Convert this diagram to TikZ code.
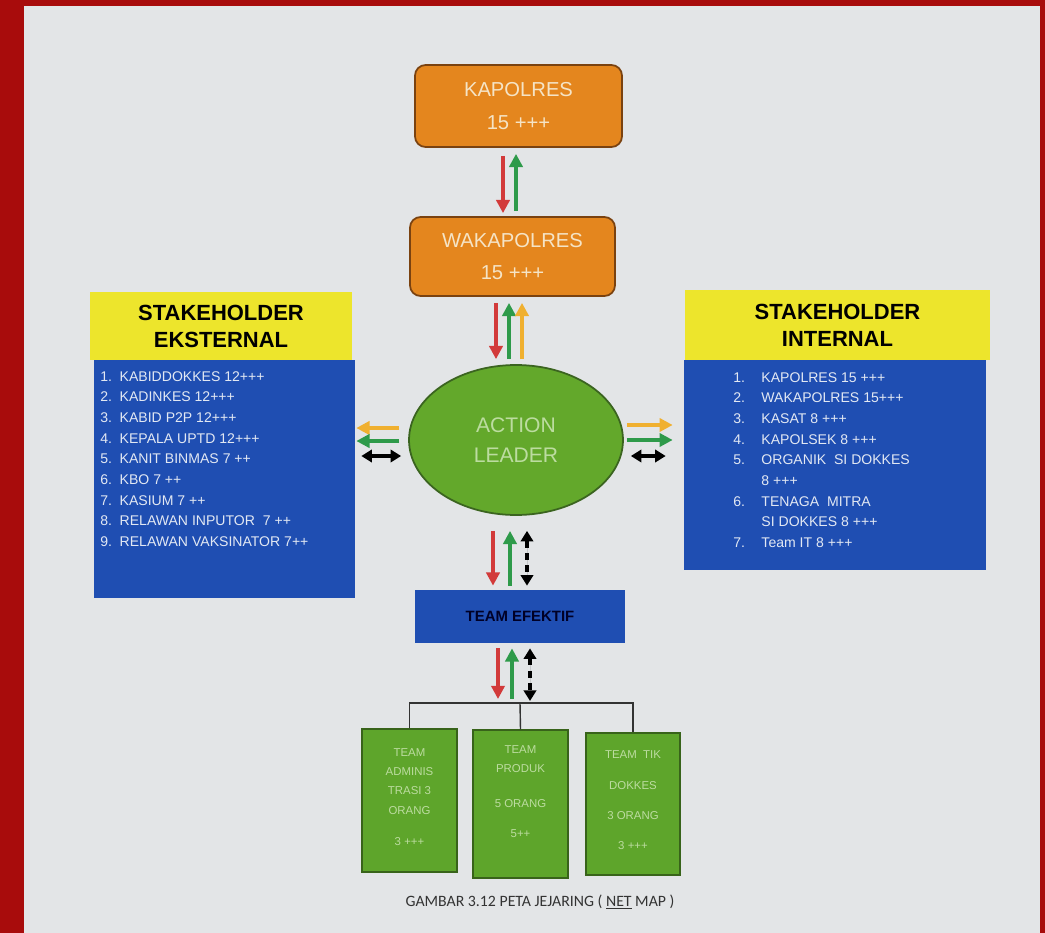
\documentclass[tikz,border=0pt]{standalone}
\usepackage{fontspec}
\setmainfont{Liberation Sans}
\newfontfamily\capfont{Carlito}
\usetikzlibrary{arrows.meta,shapes.geometric}
\definecolor{bgred}{HTML}{A80C0C}
\definecolor{pagebg}{HTML}{E3E5E7}
\definecolor{orfill}{HTML}{E4861E}
\definecolor{ordraw}{HTML}{7A4210}
\definecolor{ortext}{HTML}{F5E4C6}
\definecolor{elfill}{HTML}{63A82B}
\definecolor{eldraw}{HTML}{3B6420}
\definecolor{gtext}{HTML}{BCDCA0}
\definecolor{bfill}{HTML}{1F4EB2}
\definecolor{btext}{HTML}{E2E8F3}
\definecolor{yfill}{HTML}{EDE52C}
\definecolor{arred}{HTML}{D23A3A}
\definecolor{argreen}{HTML}{2E9A4A}
\definecolor{arorange}{HTML}{F0B030}
\definecolor{gbox}{HTML}{5EA52B}
\begin{document}
\begin{tikzpicture}[x=0.02cm,y=-0.02cm,
  orbox/.style={draw=ordraw,line width=1pt,fill=orfill,rounded corners=6pt,text=ortext,align=center,font=\fontsize{11.5}{18.5}\selectfont},
  yhead/.style={fill=yfill,align=center,font=\bfseries\fontsize{12.5}{15.3}\selectfont},
  bbody/.style={fill=bfill},
  listtext/.style={anchor=north west,inner sep=0pt,align=left,text=btext,font=\fontsize{8}{11.76}\selectfont},
  gbx/.style={fill=gbox,draw=gbox!60!black,line width=0.6pt},
  gtx/.style={anchor=north,align=center,text=gtext,font=\fontsize{6.5}{11}\selectfont},
  arw/.style={line width=2.2pt,-{Triangle[length=7.5pt,width=7.5pt]}},
  arwb/.style={line width=2.2pt,{Triangle[length=6pt,width=7pt]}-{Triangle[length=6pt,width=7pt]}},
  ra/.style={arw,draw=arred,fill=arred},
  ga/.style={arw,draw=argreen,fill=argreen},
  oa/.style={arw,draw=arorange,fill=arorange},
  ka/.style={arwb,draw=black,fill=black},
  kd/.style={arwb,draw=black,fill=black,dash pattern=on 4pt off 3pt}]
\useasboundingbox (0,0) rectangle (1045,933);
\fill[bgred] (0,0) rectangle (1045,933);
\fill[pagebg] (24,6) rectangle (1040,933);

% main nodes
\node[orbox,minimum width=4.14cm,minimum height=1.64cm] (kap) at (518.5,106) {KAPOLRES\\15 +++};
\node[orbox,minimum width=4.1cm,minimum height=1.58cm] (wak) at (512.5,256.5) {WAKAPOLRES\\15 +++};
\node[ellipse,draw=eldraw,line width=1pt,fill=elfill,minimum width=4.28cm,minimum height=3.0cm,text=gtext,align=center,font=\fontsize{12}{17}\selectfont] (ell) at (516,440) {ACTION\\LEADER};
\node[fill=bfill,minimum width=4.2cm,minimum height=1.06cm,text=black!85!blue,font=\bfseries\fontsize{8.5}{10}\selectfont] (eff) at (520,616.5) {TEAM EFEKTIF};

% external stakeholder
\node[yhead,minimum width=5.24cm,minimum height=1.36cm] (exth) at (221,326) {STAKEHOLDER\\EKSTERNAL};
\node[bbody,minimum width=5.22cm,minimum height=4.76cm] (ext) at (224.5,479) {};
\node[listtext] (extl) at (100,371) {%
\makebox[11pt][l]{1.}KABIDDOKKES 12+++\\
\makebox[11pt][l]{2.}KADINKES 12+++\\
\makebox[11pt][l]{3.}KABID P2P 12+++\\
\makebox[11pt][l]{4.}KEPALA UPTD 12+++\\
\makebox[11pt][l]{5.}KANIT BINMAS 7 ++\\
\makebox[11pt][l]{6.}KBO 7 ++\\
\makebox[11pt][l]{7.}KASIUM 7 ++\\
\makebox[11pt][l]{8.}RELAWAN INPUTOR\ \ 7 ++\\
\makebox[11pt][l]{9.}RELAWAN VAKSINATOR 7++};

% internal stakeholder
\node[yhead,minimum width=6.1cm,minimum height=1.4cm] (inth) at (837.5,325) {STAKEHOLDER\\INTERNAL};
\node[bbody,minimum width=6.04cm,minimum height=4.2cm] (int) at (835,465) {};
\node[listtext] (intl) at (733,372) {%
\makebox[16pt][l]{1.}KAPOLRES 15 +++\\
\makebox[16pt][l]{2.}WAKAPOLRES 15+++\\
\makebox[16pt][l]{3.}KASAT 8 +++\\
\makebox[16pt][l]{4.}KAPOLSEK 8 +++\\
\makebox[16pt][l]{5.}ORGANIK\ \ SI DOKKES\\
\makebox[16pt][l]{}8 +++\\
\makebox[16pt][l]{6.}TENAGA\ \ MITRA\\
\makebox[16pt][l]{}SI DOKKES 8 +++\\
\makebox[16pt][l]{7.}Team IT 8 +++};

% green team boxes
\node[gbx,minimum width=1.9cm,minimum height=2.86cm] (gA) at (409.5,800.5) {};
\node[gbx,minimum width=1.9cm,minimum height=2.96cm] (gB) at (520.5,804) {};
\node[gbx,minimum width=1.88cm,minimum height=2.84cm] (gC) at (633,804) {};
\node[gtx] (tA) at (409.5,742) {TEAM\\ADMINIS\\TRASI 3\\ORANG\\[7pt]3 +++};
\node[gtx] (tB) at (520.5,739) {TEAM\\PRODUK\\[9pt]5 ORANG\\[6pt]5++};
\node[gtx] (tC) at (633,744) {TEAM\ \ TIK\\[7pt]DOKKES\\[6pt]3 ORANG\\[6pt]3 +++};

% bracket
\coordinate (br) at (520,703);
\draw[line width=0.8pt,black!80] (gA.north) -- (gA.north |- br) -- (gC.north |- br) -- (gC.north);
\draw[line width=0.8pt,black!80] (gB.north) -- (br);

% arrows kap <-> wak
\draw[ra,shorten <=0.16cm,shorten >=0.06cm] (503,0 |- kap.south) -- (503,0 |- wak.north);
\draw[ga,shorten <=0.1cm,shorten >=0.12cm] (516,0 |- wak.north) -- (516,0 |- kap.south);
% arrows wak <-> ellipse
\draw[ra,shorten <=0.12cm,shorten >=0.1cm] (496,0 |- wak.south) -- (496,0 |- ell.north);
\draw[ga,shorten <=0.1cm,shorten >=0.12cm] (509,0 |- ell.north) -- (509,0 |- wak.south);
\draw[oa,shorten <=0.1cm,shorten >=0.12cm] (522,0 |- ell.north) -- (522,0 |- wak.south);
% arrows ellipse <-> external
\draw[oa,shorten <=0.18cm,shorten >=0.02cm] (ell.west |- 0,428) -- (ext.east |- 0,428);
\draw[ga,shorten <=0.18cm,shorten >=0.02cm] (ell.west |- 0,441) -- (ext.east |- 0,441);
\draw[ka,shorten <=0.14cm,shorten >=0.12cm] (ell.west |- 0,456) -- (ext.east |- 0,456);
% arrows ellipse <-> internal
\draw[oa,shorten <=0.06cm,shorten >=0.22cm] (ell.east |- 0,425) -- (int.west |- 0,425);
\draw[ga,shorten <=0.06cm,shorten >=0.22cm] (ell.east |- 0,440) -- (int.west |- 0,440);
\draw[ka,shorten <=0.14cm,shorten >=0.36cm] (ell.east |- 0,456) -- (int.west |- 0,456);
% arrows ellipse <-> team efektif
\draw[ra,shorten <=0.3cm,shorten >=0.08cm] (493,0 |- ell.south) -- (493,0 |- eff.north);
\draw[ga,shorten <=0.08cm,shorten >=0.3cm] (510,0 |- eff.north) -- (510,0 |- ell.south);
\draw[kd,shorten <=0.3cm,shorten >=0.08cm] (527,0 |- ell.south) -- (527,0 |- eff.north);
% arrows team efektif <-> bracket
\draw[ra,shorten <=0.1cm,shorten >=0.08cm] (498,0 |- eff.south) -- (498,0 |- br);
\draw[ga,shorten <=0.08cm,shorten >=0.1cm] (512,0 |- br) -- (512,0 |- eff.south);
\draw[kd,shorten <=0.1cm,shorten >=0.04cm] (530,0 |- eff.south) -- (530,0 |- br);

% caption
\node[text=black!80,font=\capfont\fontsize{9}{11}\selectfont] (cap) at (540,902) {GAMBAR 3.12 PETA JEJARING ( \underline{NET} MAP )};
\end{tikzpicture}
\end{document}
